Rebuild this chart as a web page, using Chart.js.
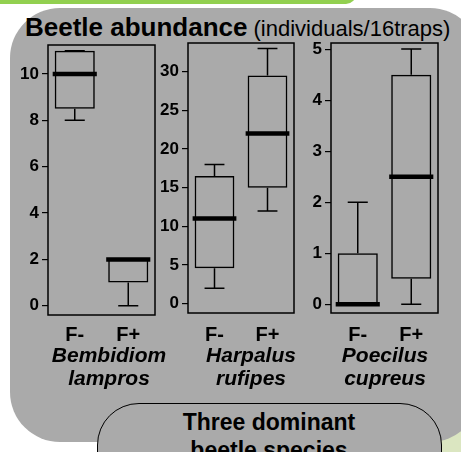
<!DOCTYPE html>
<html>
<head>
<meta charset="utf-8">
<script src="https://cdn.jsdelivr.net/npm/chart.js@4.4.1/dist/chart.umd.min.js"></script>
<style>
  body { margin: 0; width: 461px; height: 452px; overflow: hidden; background: #fff; position: relative;
         font-family: 'Liberation Sans', Arial, sans-serif; color: #000; }
  #greenBar { position: absolute; left: 0; top: -20px; width: 356px; height: 24px; background: #92d050; border-bottom-right-radius: 10px; }
  #paleCorner { position: absolute; left: 380px; top: 300px; width: 81px; height: 152px; background: #dbe6c1; }
  #panel { position: absolute; left: 10px; top: 8px; width: 470px; height: 434px; background: #aaaaaa; border-radius: 50px; }
  #title { position: absolute; left: 25px; top: 15px; white-space: nowrap; line-height: 25px; }
  #title b { font-size: 26px; }
  #title span { font-size: 22px; margin-left: 6px; }
  canvas { position: absolute; }
  .species { position: absolute; top: 343px; width: 160px; text-align: center; font-size: 21px; line-height: 23px;
             font-weight: bold; font-style: italic; }
  #labelBox { position: absolute; left: 97px; top: 403px; width: 343px; height: 90px; background: #aaaaaa;
              border: 1.5px solid #000; border-radius: 42px; }
  #labelText { position: absolute; left: 149px; top: 408px; width: 240px; text-align: center; font-size: 23px;
               line-height: 28px; font-weight: bold; }
</style>
</head>
<body>
<div id="greenBar"></div>
<div id="paleCorner"></div>
<div id="panel"></div>
<div id="title"><b>Beetle abundance</b><span>(individuals/16traps)</span></div>

<canvas id="bembidion" width="151" height="324" style="left:8px; top:31px"></canvas>
<canvas id="harpalus" width="150" height="324" style="left:148px; top:29px"></canvas>
<canvas id="poecilus" width="151" height="324" style="left:291px; top:29px"></canvas>

<div class="species" style="left:29px">Bembidiom<br>lampros</div>
<div class="species" style="left:171px">Harpalus<br>rufipes</div>
<div class="species" style="left:305px">Poecilus<br>cupreus</div>

<div id="labelBox"></div>
<div id="labelText">Three dominant<br>beetle species</div>

<script>
const groups = ['F-', 'F+'];

// Bembidion lampros
const bemMin = [8, 0];
const bemQ1 = [8.5, 1];
const bemMedian = [10, 2];
const bemQ3 = [11, 2];
const bemMax = [11, 2];
const bemTicks = [0, 2, 4, 6, 8, 10];

// Harpalus rufipes
const harMin = [2, 12];
const harQ1 = [4.6, 15];
const harMedian = [11, 22];
const harQ3 = [16.5, 29.5];
const harMax = [18, 33];
const harTicks = [0, 5, 10, 15, 20, 25, 30];

// Poecilus cupreus
const poeMin = [0, 0];
const poeQ1 = [0, 0.5];
const poeMedian = [0, 2.5];
const poeQ3 = [1, 4.5];
const poeMax = [2, 5];
const poeTicks = [0, 1, 2, 3, 4, 5];

const FONT = "'Liberation Sans', Arial, sans-serif";

// whiskers, caps, thick median line and the frame round the plot area
const boxPlotPlugin = {
  id: 'boxplot',
  afterDatasetsDraw(chart, args, opts) {
    const { ctx, chartArea, scales: { x, y } } = chart;
    const bars = chart.getDatasetMeta(0).data;
    ctx.save();
    ctx.strokeStyle = '#000';
    opts.median.forEach((m, i) => {
      const cx = x.getPixelForValue(i);
      const w = bars[i].width;
      ctx.lineWidth = 1.5;
      ctx.beginPath();
      ctx.moveTo(cx, y.getPixelForValue(opts.min[i]));
      ctx.lineTo(cx, y.getPixelForValue(opts.q1[i]));
      ctx.moveTo(cx, y.getPixelForValue(opts.q3[i]));
      ctx.lineTo(cx, y.getPixelForValue(opts.max[i]));
      [opts.min[i], opts.max[i]].forEach(v => {
        const py = y.getPixelForValue(v);
        ctx.moveTo(cx - w / 4, py);
        ctx.lineTo(cx + w / 4, py);
      });
      ctx.stroke();

      ctx.lineWidth = 4.5;
      ctx.beginPath();
      const my = y.getPixelForValue(m);
      ctx.moveTo(cx - w / 2 - 2, my);
      ctx.lineTo(cx + w / 2 + 2, my);
      ctx.stroke();
    });
    ctx.lineWidth = 1.5;
    ctx.strokeRect(chartArea.left, chartArea.top, chartArea.right - chartArea.left, chartArea.bottom - chartArea.top);
    ctx.restore();
  }
};

function boxChart(id, min, q1, median, q3, max, yMin, yMax, yTicks, labelPad) {
  new Chart(document.getElementById(id), {
    type: 'bar',
    data: {
      labels: groups,
      datasets: [{
        data: q1.map((v, i) => [v, q3[i]]),
        backgroundColor: 'rgba(0,0,0,0)',
        borderColor: '#000',
        borderWidth: 1.5,
        borderSkipped: false,
        categoryPercentage: 1,
        barPercentage: 0.75
      }]
    },
    options: {
      responsive: false,
      animation: false,
      layout: { padding: { top: 14, right: 4, left: 0, bottom: 0 } },
      plugins: {
        legend: { display: false },
        tooltip: { enabled: false },
        boxplot: { min, q1, median, q3, max }
      },
      scales: {
        x: {
          offset: true,
          grid: { display: false, drawTicks: false },
          border: { display: false },
          ticks: { color: '#000', padding: labelPad, font: { family: FONT, size: 20, weight: 'bold' } },
          afterFit: s => { s.height = 40; }
        },
        y: {
          min: yMin,
          max: yMax,
          afterBuildTicks: s => { s.ticks = yTicks.map(v => ({ value: v })); },
          afterFit: s => { s.width = 40; },
          grid: { drawOnChartArea: false, drawTicks: true, tickLength: 6, color: '#000', lineWidth: 1.2 },
          border: { display: false },
          ticks: { color: '#000', padding: 3, font: { family: FONT, size: 17, weight: 'bold' } }
        }
      }
    },
    plugins: [boxPlotPlugin]
  });
}

boxChart('bembidion', bemMin, bemQ1, bemMedian, bemQ3, bemMax, -0.4, 11.25, bemTicks, 8);
boxChart('harpalus', harMin, harQ1, harMedian, harQ3, harMax, -1.2, 33.7, harTicks, 10);
boxChart('poecilus', poeMin, poeQ1, poeMedian, poeQ3, poeMax, -0.17, 5.12, poeTicks, 10);
</script>
</body>
</html>
